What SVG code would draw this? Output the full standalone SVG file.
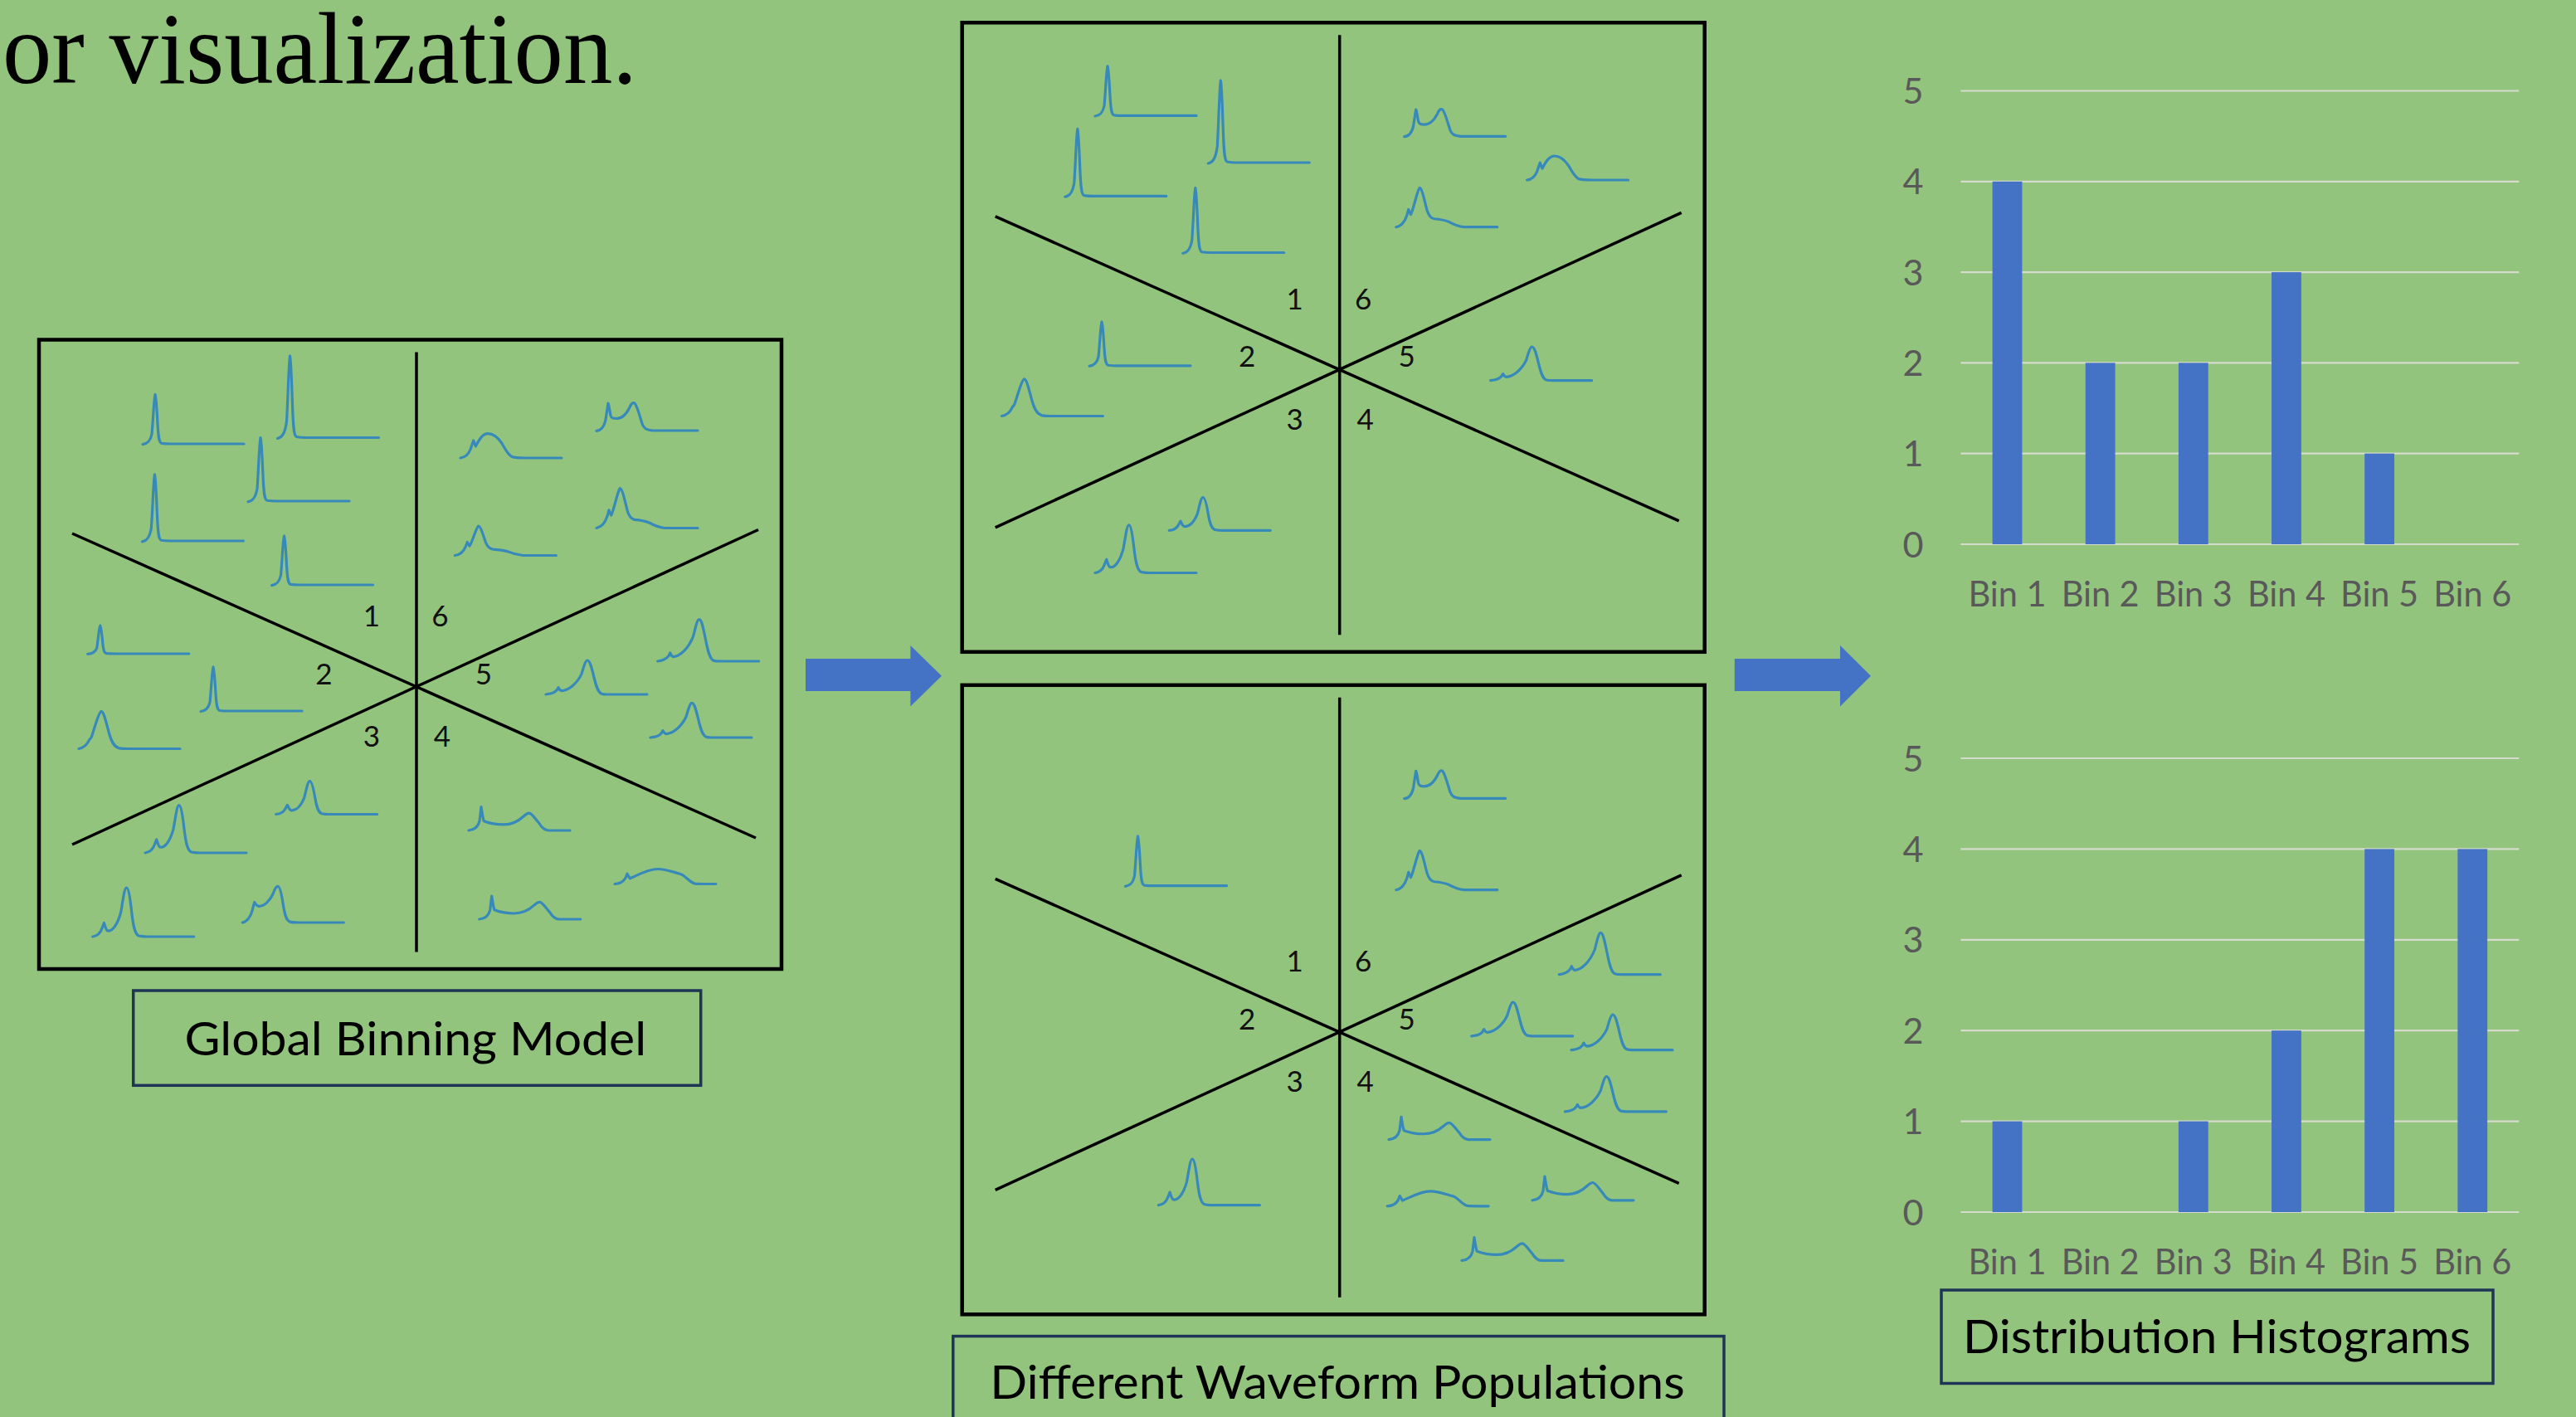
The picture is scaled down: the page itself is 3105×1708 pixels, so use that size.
<svg xmlns="http://www.w3.org/2000/svg" xmlns:xlink="http://www.w3.org/1999/xlink" width="3105" height="1708" viewBox="0 0 3105 1708">
  <style>
    .bg { fill: #93c47d; }
    .frame { fill: none; stroke: #000; stroke-width: 4.5; }
    .divider { stroke: #000; stroke-width: 3.5; stroke-linecap: butt; }
    .wave { fill: none; stroke: #3789ba; stroke-width: 3.2; stroke-linejoin: round; stroke-linecap: round; vector-effect: non-scaling-stroke; }
    .binno { font-family: Lato, "Open Sans", sans-serif; font-size: 35px; fill: #111; text-anchor: middle; }
    .caption-box { fill: none; stroke: #1f3556; stroke-width: 3.5; }
    .caption { font-family: Lato, "Open Sans", sans-serif; font-size: 56px; fill: #000; text-anchor: middle; }
    .arrow { fill: #4472c4; }
    .grid { stroke: #d6dccd; stroke-width: 2.2; }
    .bar { fill: #4472c4; }
    .axis { font-family: Lato, "Open Sans", sans-serif; font-size: 43px; fill: #595959; text-anchor: middle; }
    .cat { font-family: Lato, "Open Sans", sans-serif; font-size: 42px; fill: #595959; text-anchor: middle; }
    .title { font-family: "Liberation Serif", "Times New Roman", serif; font-size: 123px; fill: #000; }
  </style>
  <defs>
    <!-- waveform shapes: 122 units wide, baseline at y=0, peak at y=-100 -->
    <path id="wA" class="wave" d="M0,1 C5,0 9,-4 11,-20 C12.5,-45 13.8,-98 15,-100 C16.2,-98 17,-70 18,-40 C19,-10 20,-2 23,-1 C27,0 30,0 34,0 L122,0"/>
    <path id="wH" class="wave" d="M0,0 C5,-2 10,-10 13,-25 L15,-30 C18,-45 23,-95 27,-100 C30,-100 33,-70 36,-45 C39,-20 42,-6 48,-2 C52,0 56,0 60,0 L122,0"/>
    <path id="wC" class="wave" d="M0,0 C4,-1 9,-6 11,-16 L13.7,-28 C15,-22 16,-13 18,-12 C24,-10 30,-25 34,-50 C37,-80 38.5,-100 40.7,-100 C43,-100 45,-80 47,-50 C49,-20 51,-6 55,-2 C58,0 62,0 66,0 L122,0"/>
    <path id="wM" class="wave" d="M0,0 C5,-2 10,-15 12,-35 L14.4,-56 C16,-50 17,-46 19.4,-45 C26,-44 33,-60 37,-80 C39,-95 41,-100 42.7,-100 C45,-100 47,-80 49,-50 C51,-20 53,-6 57,-2 C60,0 64,0 68,0 L122,0"/>
    <path id="wC5" class="wave" d="M0,0 C5,-1 11,-6 13,-12 L15,-20 C16,-15 17,-11 19,-10.6 C27,-12 37,-30 43,-60 C46,-85 48,-100 50,-100 C53,-100 55,-80 58,-50 C61,-20 63,-6 67,-2 C69,0 72,0 76,0 L122,0"/>
    <path id="wB" class="wave" d="M0,1 C5,0 9,-10 11,-40 L14,-100 C15,-95 16,-70 17,-55 C18,-45 20,-44 24,-44 C30,-44 36,-60 40,-85 C42,-100 44,-104 46,-100 C49,-90 52,-55 55,-25 C57,-8 60,-2 68,0 L122,0"/>
    <path id="wG" class="wave" d="M0,0 C5,-2 9,-10 12,-35 L15.7,-72 L18.3,-48 C22,-70 26,-100 33,-100 C40,-100 45,-85 50,-60 C54,-35 58,-12 62,-5 C65,-1 70,0 78,0 L122,0"/>
    <path id="wF" class="wave" d="M0,0 C5,-2 10,-10 13,-30 L15,-45 L17.7,-32 C21,-45 25,-90 28.3,-100 C31,-100 34,-70 37,-45 C39,-30 42,-22 46,-21 C52,-20 58,-18 64,-13 C70,-6 74,-2 82,0 L122,0"/>
    <path id="wD" class="wave" d="M0,0 C6,-2 11,-10 13,-40 L15,-100 C16,-80 17,-50 18.3,-40 C24,-32 32,-25 42,-25 C52,-25 60,-40 66,-60 C69,-70 71,-74 73,-74 C76,-74 80,-50 85,-30 C88,-12 91,-1 96,0 L122,0"/>
    <path id="wE" class="wave" d="M0,0 C5,-1 10,-10 13,-40 L15,-68 L18.3,-37 C28,-60 40,-100 52,-100 C62,-100 70,-80 79,-67 C86,-55 90,-8 97,-2 C100,0 104,0 108,0 L122,0"/>

    <!-- six-bin partition frame, centred on the crossing point -->
    <g id="partition">
      <rect class="frame" x="-455" y="-418" width="895" height="758.5"/>
      <line class="divider" x1="0" y1="-403" x2="0" y2="320"/>
      <line class="divider" x1="-415" y1="-184.5" x2="409" y2="182.5"/>
      <line class="divider" x1="-415" y1="190.5" x2="412" y2="-189"/>
      <text class="binno" x="-54" y="-72.5">1</text>
      <text class="binno" x="28.5" y="-72.5">6</text>
      <text class="binno" x="-111.5" y="-3">2</text>
      <text class="binno" x="81" y="-3">5</text>
      <text class="binno" x="-54" y="72.5">3</text>
      <text class="binno" x="31" y="72.5">4</text>
    </g>
  </defs>

  <rect class="bg" x="0" y="0" width="3105" height="1708"/>

  <text class="title" x="3" y="100" textLength="765" lengthAdjust="spacingAndGlyphs">or visualization.</text>

  <!-- global binning model -->
  <g id="global-model">
    <use href="#partition" transform="translate(502,827.5)"/>
    <use href="#wA" transform="translate(172,535) scale(1,0.595)"/>
    <use href="#wA" transform="translate(334.5,527.5) scale(1,0.985)"/>
    <use href="#wA" transform="translate(299,604) scale(1,0.765)"/>
    <use href="#wA" transform="translate(171.4,652) scale(1,0.8)"/>
    <use href="#wA" transform="translate(327.5,705) scale(1,0.59)"/>
    <use href="#wA" transform="translate(105.7,788) scale(1,0.34)"/>
    <use href="#wA" transform="translate(242,857) scale(1,0.53)"/>
    <use href="#wH" transform="translate(95,902.5) scale(1,0.452)"/>
    <use href="#wC" transform="translate(175,1028) scale(1,0.573)"/>
    <use href="#wC" transform="translate(332.7,981.5) scale(1,0.398)"/>
    <use href="#wC" transform="translate(111.7,1129) scale(1,0.59)"/>
    <use href="#wM" transform="translate(292.3,1112) scale(1,0.437)"/>
    <use href="#wG" transform="translate(555,552) scale(1,0.293)"/>
    <use href="#wB" transform="translate(719,519) scale(1,0.33)"/>
    <use href="#wF" transform="translate(548.3,669.5) scale(1,0.355)"/>
    <use href="#wF" transform="translate(719,636.5) scale(1,0.48)"/>
    <use href="#wC5" transform="translate(792.7,797) scale(1,0.503)"/>
    <use href="#wC5" transform="translate(658,837) scale(1,0.41)"/>
    <use href="#wC5" transform="translate(784,889) scale(1,0.417)"/>
    <use href="#wD" transform="translate(565,1001) scale(1,0.283)"/>
    <use href="#wE" transform="translate(741,1065.5) scale(1,0.18)"/>
    <use href="#wD" transform="translate(577.7,1108) scale(1,0.28)"/>
  </g>
  <g id="global-model-label">
    <rect class="caption-box" x="160.7" y="1194" width="684" height="114.3"/>
    <text class="caption" x="500.8" y="1271.7" textLength="556.5" lengthAdjust="spacingAndGlyphs">Global Binning Model</text>
  </g>

  <!-- population A -->
  <g id="population-a">
    <use href="#partition" transform="translate(1614.7,445.3)"/>
    <use href="#wA" transform="translate(1320,139.4) scale(1,0.597)"/>
    <use href="#wA" transform="translate(1456.3,196) scale(1,0.99)"/>
    <use href="#wA" transform="translate(1283.8,236.4) scale(1,0.81)"/>
    <use href="#wA" transform="translate(1425.8,304.5) scale(1,0.78)"/>
    <use href="#wA" transform="translate(1313,440.8) scale(1,0.528)"/>
    <use href="#wH" transform="translate(1207.5,501.5) scale(1,0.447)"/>
    <use href="#wC" transform="translate(1409.3,639.3) scale(1,0.398)"/>
    <use href="#wC" transform="translate(1320,690.5) scale(1,0.577)"/>
    <use href="#wB" transform="translate(1692.7,164.3) scale(1,0.323)"/>
    <use href="#wG" transform="translate(1840.6,217) scale(1,0.29)"/>
    <use href="#wF" transform="translate(1682.8,273.7) scale(1,0.473)"/>
    <use href="#wC5" transform="translate(1796.6,458.7) scale(1,0.407)"/>
  </g>

  <!-- population B -->
  <g id="population-b">
    <use href="#partition" transform="translate(1614.7,1243.8)"/>
    <use href="#wA" transform="translate(1356.5,1067.7) scale(1,0.597)"/>
    <use href="#wC" transform="translate(1396.4,1452.7) scale(1,0.557)"/>
    <use href="#wB" transform="translate(1692.7,962.3) scale(1,0.33)"/>
    <use href="#wF" transform="translate(1682.8,1072.7) scale(1,0.473)"/>
    <use href="#wC5" transform="translate(1879.3,1174.7) scale(1,0.503)"/>
    <use href="#wC5" transform="translate(1773.7,1248.8) scale(1,0.408)"/>
    <use href="#wC5" transform="translate(1894,1265.7) scale(1,0.427)"/>
    <use href="#wC5" transform="translate(1886.4,1339.8) scale(1,0.423)"/>
    <use href="#wD" transform="translate(1674,1373.6) scale(1,0.273)"/>
    <use href="#wE" transform="translate(1672.2,1453.8) scale(1,0.18)"/>
    <use href="#wD" transform="translate(1847,1446.8) scale(1,0.288)"/>
    <use href="#wD" transform="translate(1762,1519.4) scale(1,0.278)"/>
  </g>
  <g id="populations-label">
    <rect class="caption-box" x="1148.8" y="1610.6" width="929.2" height="114"/>
    <text class="caption" x="1612" y="1686" textLength="837.6" lengthAdjust="spacingAndGlyphs">Different Waveform Populations</text>
  </g>

  <!-- histogram of population A -->
  <g id="histogram-a">
    <g>
      <line class="grid" x1="2363.4" y1="109.5" x2="3036.3" y2="109.5"/>
      <line class="grid" x1="2363.4" y1="218.8" x2="3036.3" y2="218.8"/>
      <line class="grid" x1="2363.4" y1="328.1" x2="3036.3" y2="328.1"/>
      <line class="grid" x1="2363.4" y1="437.4" x2="3036.3" y2="437.4"/>
      <line class="grid" x1="2363.4" y1="546.7" x2="3036.3" y2="546.7"/>
      <line class="grid" x1="2363.4" y1="656" x2="3036.3" y2="656"/>
    </g>
    <rect class="bar" x="2401.6" y="218.8" width="35.8" height="437.2"/>
    <rect class="bar" x="2513.75" y="437.4" width="35.8" height="218.6"/>
    <rect class="bar" x="2625.9" y="437.4" width="35.8" height="218.6"/>
    <rect class="bar" x="2738.05" y="328.1" width="35.8" height="327.9"/>
    <rect class="bar" x="2850.2" y="546.7" width="35.8" height="109.3"/>
    <text class="axis" x="2306" y="125">5</text>
    <text class="axis" x="2306" y="234.3">4</text>
    <text class="axis" x="2306" y="343.6">3</text>
    <text class="axis" x="2306" y="452.9">2</text>
    <text class="axis" x="2306" y="562.2">1</text>
    <text class="axis" x="2306" y="671.5">0</text>
    <text class="cat" x="2419.5" y="731" textLength="94" lengthAdjust="spacingAndGlyphs">Bin 1</text>
    <text class="cat" x="2531.65" y="731" textLength="94" lengthAdjust="spacingAndGlyphs">Bin 2</text>
    <text class="cat" x="2643.8" y="731" textLength="94" lengthAdjust="spacingAndGlyphs">Bin 3</text>
    <text class="cat" x="2755.95" y="731" textLength="94" lengthAdjust="spacingAndGlyphs">Bin 4</text>
    <text class="cat" x="2868.1" y="731" textLength="94" lengthAdjust="spacingAndGlyphs">Bin 5</text>
    <text class="cat" x="2980.25" y="731" textLength="94" lengthAdjust="spacingAndGlyphs">Bin 6</text>
  </g>

  <!-- histogram of population B -->
  <g id="histogram-b">
    <g>
      <line class="grid" x1="2363.4" y1="914" x2="3036.3" y2="914"/>
      <line class="grid" x1="2363.4" y1="1023.4" x2="3036.3" y2="1023.4"/>
      <line class="grid" x1="2363.4" y1="1132.8" x2="3036.3" y2="1132.8"/>
      <line class="grid" x1="2363.4" y1="1242.2" x2="3036.3" y2="1242.2"/>
      <line class="grid" x1="2363.4" y1="1351.6" x2="3036.3" y2="1351.6"/>
      <line class="grid" x1="2363.4" y1="1461" x2="3036.3" y2="1461"/>
    </g>
    <rect class="bar" x="2401.6" y="1351.6" width="35.8" height="109.4"/>
    <rect class="bar" x="2625.9" y="1351.6" width="35.8" height="109.4"/>
    <rect class="bar" x="2738.05" y="1242.2" width="35.8" height="218.8"/>
    <rect class="bar" x="2850.2" y="1023.4" width="35.8" height="437.6"/>
    <rect class="bar" x="2962.35" y="1023.4" width="35.8" height="437.6"/>
    <text class="axis" x="2306" y="929.5">5</text>
    <text class="axis" x="2306" y="1038.9">4</text>
    <text class="axis" x="2306" y="1148.3">3</text>
    <text class="axis" x="2306" y="1257.7">2</text>
    <text class="axis" x="2306" y="1367.1">1</text>
    <text class="axis" x="2306" y="1476.5">0</text>
    <text class="cat" x="2419.5" y="1536" textLength="94" lengthAdjust="spacingAndGlyphs">Bin 1</text>
    <text class="cat" x="2531.65" y="1536" textLength="94" lengthAdjust="spacingAndGlyphs">Bin 2</text>
    <text class="cat" x="2643.8" y="1536" textLength="94" lengthAdjust="spacingAndGlyphs">Bin 3</text>
    <text class="cat" x="2755.95" y="1536" textLength="94" lengthAdjust="spacingAndGlyphs">Bin 4</text>
    <text class="cat" x="2868.1" y="1536" textLength="94" lengthAdjust="spacingAndGlyphs">Bin 5</text>
    <text class="cat" x="2980.25" y="1536" textLength="94" lengthAdjust="spacingAndGlyphs">Bin 6</text>
  </g>
  <g id="histograms-label">
    <rect class="caption-box" x="2340" y="1555" width="665" height="112.5"/>
    <text class="caption" x="2672" y="1630.7" textLength="612" lengthAdjust="spacingAndGlyphs">Distribution Histograms</text>
  </g>

  <!-- flow arrows between stages -->
  <g id="connectors">
    <path class="arrow" d="M971,794 L1097.4,794 L1097.4,778 L1135,814.7 L1097.4,851.4 L1097.4,833 L971,833 Z"/>
    <path class="arrow" d="M2090.8,794 L2218,794 L2218,778 L2255,814.7 L2218,851.4 L2218,833 L2090.8,833 Z"/>
  </g>
</svg>
